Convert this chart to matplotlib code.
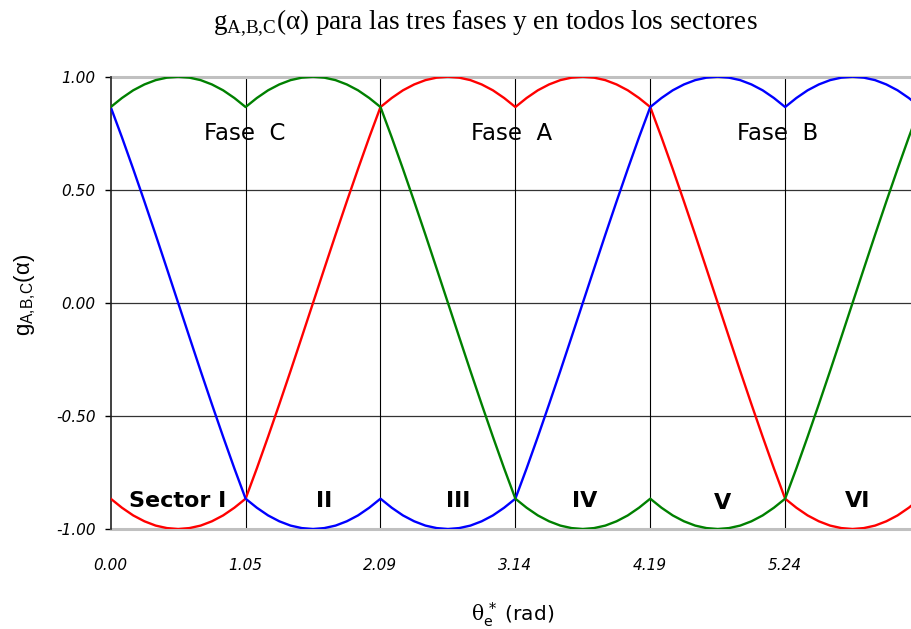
import numpy as np
import matplotlib
import matplotlib.pyplot as plt

matplotlib.use('agg')

# ángulo eléctrico (grados), una muestra cada 5°
theta_deg = np.arange(0, 361, 5)

g_a = [-0.866, -0.906, -0.940, -0.966, -0.985, -0.996, -1.000, -0.996, -0.985, -0.966, -0.940, -0.906, -0.866,
       -0.732, -0.592, -0.448, -0.301, -0.151, 0.000, 0.151, 0.301, 0.448, 0.592, 0.732, 0.866,
       0.906, 0.940, 0.966, 0.985, 0.996, 1.000, 0.996, 0.985, 0.966, 0.940, 0.906, 0.866,
       0.906, 0.940, 0.966, 0.985, 0.996, 1.000, 0.996, 0.985, 0.966, 0.940, 0.906, 0.866,
       0.732, 0.592, 0.448, 0.301, 0.151, 0.000, -0.151, -0.301, -0.448, -0.592, -0.732, -0.866,
       -0.906, -0.940, -0.966, -0.985, -0.996, -1.000, -0.996, -0.985, -0.966, -0.940, -0.906, -0.866]
g_b = [0.866, 0.732, 0.592, 0.448, 0.301, 0.151, 0.000, -0.151, -0.301, -0.448, -0.592, -0.732, -0.866,
       -0.906, -0.940, -0.966, -0.985, -0.996, -1.000, -0.996, -0.985, -0.966, -0.940, -0.906, -0.866,
       -0.906, -0.940, -0.966, -0.985, -0.996, -1.000, -0.996, -0.985, -0.966, -0.940, -0.906, -0.866,
       -0.732, -0.592, -0.448, -0.301, -0.151, 0.000, 0.151, 0.301, 0.448, 0.592, 0.732, 0.866,
       0.906, 0.940, 0.966, 0.985, 0.996, 1.000, 0.996, 0.985, 0.966, 0.940, 0.906, 0.866,
       0.906, 0.940, 0.966, 0.985, 0.996, 1.000, 0.996, 0.985, 0.966, 0.940, 0.906, 0.866]
g_c = [0.866, 0.906, 0.940, 0.966, 0.985, 0.996, 1.000, 0.996, 0.985, 0.966, 0.940, 0.906, 0.866,
       0.906, 0.940, 0.966, 0.985, 0.996, 1.000, 0.996, 0.985, 0.966, 0.940, 0.906, 0.866,
       0.732, 0.592, 0.448, 0.301, 0.151, 0.000, -0.151, -0.301, -0.448, -0.592, -0.732, -0.866,
       -0.906, -0.940, -0.966, -0.985, -0.996, -1.000, -0.996, -0.985, -0.966, -0.940, -0.906, -0.866,
       -0.906, -0.940, -0.966, -0.985, -0.996, -1.000, -0.996, -0.985, -0.966, -0.940, -0.906, -0.866,
       -0.732, -0.592, -0.448, -0.301, -0.151, 0.000, 0.151, 0.301, 0.448, 0.592, 0.732, 0.866]

# límites de sector (grados) y nombres
sector_deg = [0, 60, 120, 180, 240, 300]
sector_names = ['Sector I', 'II', 'III', 'IV', 'V', 'VI']
fase_names = ['Fase  C', 'Fase  A', 'Fase  B']
y_ticks = [-1.0, -0.5, 0.0, 0.5, 1.0]


def generate_png(png_path):
    theta = np.radians(theta_deg)
    bounds = np.radians(sector_deg)

    fig = plt.figure(figsize=(9.12, 6.29), dpi=100)
    # el área de trazado sigue un poco más allá del borde derecho
    ax = fig.add_axes([0.1214, 0.159, 0.8874, 0.719])

    for y in [-0.5, 0.0, 0.5]:
        ax.axhline(y, color='#333333', lw=0.9, zorder=1)
    for x in bounds[1:]:
        ax.axvline(x, color='black', lw=0.8, zorder=1)

    ax.plot(theta, g_a, color='#ff0000', lw=1.7, zorder=3)
    ax.plot(theta, g_b, color='#0000ff', lw=1.7, zorder=3)
    ax.plot(theta, g_c, color='#008000', lw=1.7, zorder=3)

    ax.set_xlim(0, 2 * np.pi)
    ax.set_ylim(-1, 1)

    for side in ['top', 'bottom']:
        ax.spines[side].set_color('#c0c0c0')
        ax.spines[side].set_linewidth(2.2)
        ax.spines[side].set_zorder(2)
    ax.spines['right'].set_visible(False)
    ax.spines['left'].set_color('#202020')
    ax.spines['left'].set_linewidth(1.2)

    ax.set_xticks(bounds)
    ax.set_xticklabels(['{:.2f}'.format(b) for b in bounds])
    ax.set_yticks(y_ticks)
    ax.set_yticklabels(['{:.2f}'.format(v) for v in y_ticks])
    ax.tick_params(axis='x', length=0, pad=21)
    ax.tick_params(axis='y', length=4, width=1, direction='out', pad=7)
    for lab in ax.get_xticklabels() + ax.get_yticklabels():
        lab.set_fontstyle('italic')
        lab.set_fontsize(11)

    # etiquetas de fase y de sector
    for name, x in zip(fase_names, [1.04, 3.11, 5.18]):
        ax.text(x, 0.75, name, ha='center', va='center', fontsize=16.5, zorder=4)
    sector_x = [0.52, 1.66, 2.70, 3.68, 4.75, 5.80]
    sector_y = [-0.876, -0.876, -0.876, -0.876, -0.885, -0.876]
    for name, x, y in zip(sector_names, sector_x, sector_y):
        ax.text(x, y, name, ha='center', va='center', fontsize=16,
                fontweight='bold', zorder=4)

    fig.text(485 / 912, 1 - 29 / 629,
             r'g$_{\mathregular{A{,}B{,}C}}$(α) para las tres fases y en todos los sectores',
             ha='center', va='baseline', fontsize=19.5, family='Liberation Serif')
    fig.text(513 / 912, 1 - 621 / 629, r'$\mathrm{\theta}_{\mathregular{e}}^{\,*}$ (rad)',
             ha='center', va='baseline', fontsize=14.5, math_fontfamily='dejavuserif')
    fig.text(25 / 912, 1 - 295 / 629, r'g$_{\mathregular{A{,}B{,}C}}$(α)',
             ha='center', va='center', rotation=90, fontsize=16,
             family='Liberation Sans')

    fig.savefig(png_path, dpi=100)
    plt.close(fig)


generate_png('out.png')
